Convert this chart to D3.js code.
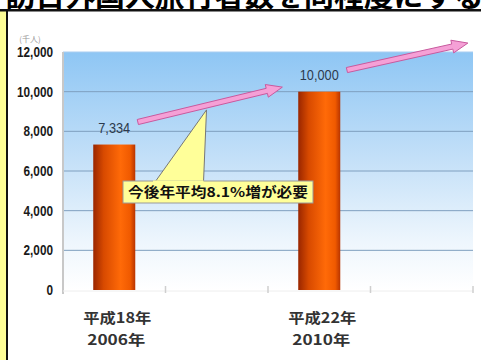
<!DOCTYPE html>
<html>
<head>
<meta charset="utf-8">
<script src="https://cdn.jsdelivr.net/npm/d3@7"></script>
<style>
  html, body { margin: 0; padding: 0; background: #fff; }
  svg { display: block; }
</style>
</head>
<body>
<svg id="chart" width="481" height="360"></svg>
<script>
// Visitor counts (thousand people)
const categories = ["2006", "", "2010", ""];
const eraLabels = ["平成18年", "", "平成22年", ""];
const yearLabels = ["2006年", "", "2010年", ""];
const values = [7334, null, 10000, null];
const valueLabels = ["7,334", "", "10,000", ""];
const yTicks = [0, 2000, 4000, 6000, 8000, 10000, 12000];
const unitLabel = "(千人)";
const calloutText = "今後年平均8.1%増が必要";
const titleText = "訪日外国人旅行者数を同程度にする";

// Growth arrows in [category position, value] space
const arrows = [
  { from: [0.73, 8470], to: [2.14, 10230] },
  { from: [2.77, 11090], to: [3.95, 12450] }
];
const calloutApex = [1.40, 9080];

const svg = d3.select("#chart");
const W = 481, H = 360;
const plot = { left: 63, right: 473, top: 52, bottom: 290 };

const x = d3.scaleBand().domain(d3.range(categories.length))
  .range([plot.left, plot.right]).padding(0);
const xPos = d3.scaleLinear().domain([0, categories.length]).range([plot.left, plot.right]);
const y = d3.scaleLinear().domain([0, 12000]).range([plot.bottom, plot.top]);

// squeeze a text horizontally (narrow face)
function condense(sel, k) {
  sel.each(function () {
    const w = this.getComputedTextLength();
    if (w > 0) d3.select(this).attr("textLength", w * k).attr("lengthAdjust", "spacingAndGlyphs");
  });
}

const defs = svg.append("defs");
const bg = defs.append("linearGradient").attr("id", "bg").attr("x1", 0).attr("y1", 0).attr("x2", 0).attr("y2", 1);
bg.append("stop").attr("offset", "0%").attr("stop-color", "#8ec6f4");
bg.append("stop").attr("offset", "45%").attr("stop-color", "#c4e0f8");
bg.append("stop").attr("offset", "80%").attr("stop-color", "#eef6fd");
bg.append("stop").attr("offset", "100%").attr("stop-color", "#ffffff");

const barGrad = defs.append("linearGradient").attr("id", "bar").attr("x1", 0).attr("y1", 0).attr("x2", 1).attr("y2", 0);
barGrad.append("stop").attr("offset", "0%").attr("stop-color", "#9a2600");
barGrad.append("stop").attr("offset", "25%").attr("stop-color", "#d84a00");
barGrad.append("stop").attr("offset", "65%").attr("stop-color", "#ff6a08");
barGrad.append("stop").attr("offset", "88%").attr("stop-color", "#f05a00");
barGrad.append("stop").attr("offset", "100%").attr("stop-color", "#b83400");

// Frame: yellow side strip and black rules
svg.append("rect").attr("x", 0).attr("y", 11).attr("width", 7).attr("height", H - 11).attr("fill", "#fdfd96");
svg.append("rect").attr("x", 6).attr("y", 11).attr("width", 2).attr("height", H - 11).attr("fill", "#111");

// Heading (its upper part runs off the top edge)
svg.append("text").attr("x", W / 2 + 4).attr("y", 7)
  .attr("text-anchor", "middle")
  .attr("font-family", "Noto Sans CJK JP").attr("font-weight", "bold")
  .attr("font-size", 28).attr("fill", "#000")
  .attr("textLength", 478).attr("lengthAdjust", "spacingAndGlyphs")
  .text(titleText);
svg.append("rect").attr("x", 0).attr("y", 9).attr("width", W).attr("height", 2.5).attr("fill", "#111");

// Plot background
svg.append("rect").attr("x", plot.left).attr("y", plot.top)
  .attr("width", plot.right - plot.left).attr("height", plot.bottom - plot.top)
  .attr("fill", "url(#bg)");

// Gridlines
svg.append("g").selectAll("line").data(yTicks.filter(d => d > 0)).join("line")
  .attr("x1", plot.left).attr("x2", plot.right)
  .attr("y1", d => y(d)).attr("y2", d => y(d))
  .attr("stroke", d => d === 12000 ? "#a9cdf0" : "#7f9fbf").attr("stroke-width", 1);

// Axis lines and faint ticks
svg.append("line").attr("x1", plot.left).attr("x2", plot.left)
  .attr("y1", plot.top).attr("y2", plot.bottom + 4)
  .attr("stroke", "#c8c8c8").attr("stroke-width", 2);
svg.append("line").attr("x1", plot.left).attr("x2", plot.right)
  .attr("y1", plot.bottom + 1).attr("y2", plot.bottom + 1)
  .attr("stroke", "#eeeeee").attr("stroke-width", 1);
svg.append("g").selectAll("line").data(d3.range(1, categories.length + 1)).join("line")
  .attr("x1", d => xPos(d)).attr("x2", d => xPos(d))
  .attr("y1", plot.bottom - 4).attr("y2", plot.bottom + 3)
  .attr("stroke", "#cfcfcf").attr("stroke-width", 1.5);

// Y axis labels
const yAxis = d3.axisLeft(y).tickValues(yTicks).tickFormat(d3.format(",")).tickSize(0).tickPadding(10);
const yg = svg.append("g").attr("transform", `translate(${plot.left},0)`).call(yAxis);
yg.select(".domain").remove();
yg.selectAll("text")
  .attr("font-family", "Liberation Sans, Arial, sans-serif")
  .attr("font-weight", "bold").attr("font-size", 14).attr("fill", "#1a1a1a")
  .call(condense, 0.84);

svg.append("text").attr("x", 30).attr("y", 42).attr("text-anchor", "middle")
  .attr("font-family", "Noto Sans CJK JP").attr("font-size", 8).attr("fill", "#999")
  .text(unitLabel);

// Bars
const barW = x.bandwidth() * 0.41;
const barData = values.map((v, i) => ({ v, i })).filter(d => d.v != null);
svg.append("g").selectAll("rect").data(barData).join("rect")
  .attr("x", d => x(d.i) + (x.bandwidth() - barW) / 2)
  .attr("y", d => y(d.v))
  .attr("width", barW)
  .attr("height", d => y(0) - y(d.v))
  .attr("fill", "url(#bar)");

// Value labels
svg.append("g").selectAll("text").data(barData).join("text")
  .attr("x", d => x(d.i) + x.bandwidth() / 2)
  .attr("y", d => y(d.v) - 12)
  .attr("text-anchor", "middle")
  .attr("font-family", "Liberation Sans, Arial, sans-serif")
  .attr("font-size", 15).attr("fill", "#2c3a4c")
  .text(d => valueLabels[d.i])
  .call(condense, 0.85);

// Growth arrows
function arrowPath(a) {
  const x1 = xPos(a.from[0]), y1 = y(a.from[1]);
  const x2 = xPos(a.to[0]), y2 = y(a.to[1]);
  const ang = Math.atan2(y2 - y1, x2 - x1);
  const len = Math.hypot(x2 - x1, y2 - y1);
  const sw = 2.6, hw = 6.5, hl = 16;
  const pts = [[0, -sw], [len - hl, -sw], [len - hl, -hw], [len, 0], [len - hl, hw], [len - hl, sw], [0, sw]];
  const c = Math.cos(ang), s = Math.sin(ang);
  return "M" + pts.map(p => [x1 + p[0] * c - p[1] * s, y1 + p[0] * s + p[1] * c].join(",")).join("L") + "Z";
}
svg.append("g").selectAll("path").data(arrows).join("path")
  .attr("d", arrowPath)
  .attr("fill", "#f5a0d6").attr("stroke", "#c85a9e").attr("stroke-width", 1);

// Callout
const box = { x: 123, y: 181, w: 190, h: 22 };
const ax = xPos(calloutApex[0]), ay = y(calloutApex[1]);
svg.append("path")
  .attr("d", `M${box.x + 32},${box.y + 1}L${ax},${ay}L${ax - 3},${box.y + 1}Z`)
  .attr("fill", "#ffff99").attr("stroke", "#777").attr("stroke-width", 1);
svg.append("rect").attr("x", box.x).attr("y", box.y).attr("width", box.w).attr("height", box.h)
  .attr("fill", "#ffff99").attr("stroke", "#999").attr("stroke-width", 1);
svg.append("rect").attr("x", box.x + 30).attr("y", box.y - 0.5).attr("width", ax - 3 - box.x - 30).attr("height", 2)
  .attr("fill", "#ffff99");
svg.append("text").attr("x", box.x + box.w / 2).attr("y", box.y + 16)
  .attr("text-anchor", "middle")
  .attr("font-family", "Noto Sans CJK JP").attr("font-weight", "bold")
  .attr("font-size", 13.5).attr("fill", "#111")
  .attr("textLength", 180).attr("lengthAdjust", "spacingAndGlyphs")
  .text(calloutText);

// Category labels
const shown = categories.map((c, i) => i).filter(i => categories[i] !== "");
const catG = svg.append("g").selectAll("g").data(shown).join("g");
catG.append("text")
  .attr("x", i => x(i) + x.bandwidth() / 2 + 3).attr("y", 323)
  .attr("text-anchor", "middle")
  .attr("font-family", "Noto Sans CJK JP").attr("font-weight", "bold")
  .attr("font-size", 14).attr("fill", "#333")
  .attr("textLength", 68).attr("lengthAdjust", "spacingAndGlyphs")
  .text(i => eraLabels[i]);
catG.append("text")
  .attr("x", i => x(i) + x.bandwidth() / 2 + 2).attr("y", 345)
  .attr("text-anchor", "middle")
  .attr("font-family", "Noto Sans CJK JP").attr("font-weight", "bold")
  .attr("font-size", 14).attr("fill", "#333")
  .attr("textLength", 58).attr("lengthAdjust", "spacingAndGlyphs")
  .text(i => yearLabels[i]);
</script>
</body>
</html>
